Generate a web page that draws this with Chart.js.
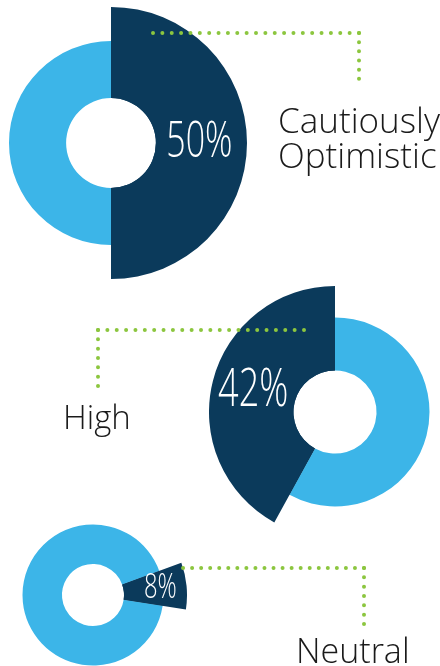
<!DOCTYPE html>
<html>
<head>
<meta charset="utf-8">
<script src="https://cdn.jsdelivr.net/npm/chart.js@4.4.1/dist/chart.umd.min.js"></script>
<style>
  html, body { margin: 0; padding: 0; background: #fff; }
  #stage { position: relative; width: 440px; height: 666px; overflow: hidden; }
  #stage canvas { position: absolute; }
  #leaders { position: absolute; left: 0; top: 0; z-index: 2; }
  .label {
    position: absolute; z-index: 3;
    font-family: "Open Sans", sans-serif; font-weight: 300;
    color: #1a1a1a; white-space: nowrap;
  }
</style>
</head>
<body>
<div id="stage">
  <svg id="leaders" width="440" height="666"></svg>
  <div class="label" id="l0" style="left:278px; top:102px; font-size:35px; line-height:35px;"></div>
  <div class="label" id="l1" style="left:63px; top:399px; font-size:33px; line-height:35px;"></div>
  <div class="label" id="l2" style="left:296px; top:633px; font-size:34px; line-height:35px;"></div>
</div>
<script>
// values
const categories = ["Cautiously Optimistic", "High", "Neutral"];
const labelLines = [["Cautiously", "Optimistic"], ["High"], ["Neutral"]];
const shares = [50, 42, 8];

const DARK = "#0b3a5b";
const LIGHT = "#3cb5e8";
const GREEN = "#8cc63f";

// where each donut sits (centre x, centre y, outer radius of the dark slice)
const layout = [
  { cx: 111, cy: 143, r: 136, rotation: 0, fontSize: 50, labelR: 0.65 },
  { cx: 335, cy: 412, r: 126, rotation: -shares[1] * 3.6, fontSize: 53, labelR: 0.67 },
  { cx: 93, cy: 595, r: 94, rotation: 70, fontSize: 35, labelR: 0.72 },
];

// leader lines: corner point, end of the horizontal run, end of the vertical run
const leaders = [
  { corner: [359, 33], hx: 153, vy: 88 },
  { corner: [98, 330], hx: 304, vy: 386 },
  { corner: [364, 568], hx: 174, vy: 624 },
];

const valueLabel = {
  id: "valueLabel",
  afterDatasetsDraw(chart, args, opts) {
    if (!opts.text) return;
    const arc = chart.getDatasetMeta(0).data[0];
    const mid = (arc.startAngle + arc.endAngle) / 2;
    const r = arc.outerRadius * opts.labelR;
    const x = arc.x + Math.cos(mid) * r;
    const y = arc.y + Math.sin(mid) * r;
    const ctx = chart.ctx;
    ctx.save();
    ctx.translate(x, y);
    ctx.scale(0.68, 1);
    ctx.fillStyle = "#ffffff";
    ctx.font = "300 " + opts.fontSize + "px 'Open Sans'";
    ctx.textAlign = "center";
    ctx.textBaseline = "middle";
    ctx.fillText(opts.text, 0, 0);
    ctx.restore();
  },
};

const stage = document.getElementById("stage");

function makeCanvas(L, z) {
  const canvas = document.createElement("canvas");
  canvas.width = L.r * 2;
  canvas.height = L.r * 2;
  canvas.style.width = L.r * 2 + "px";
  canvas.style.height = L.r * 2 + "px";
  canvas.style.left = L.cx - L.r + "px";
  canvas.style.top = L.cy - L.r + "px";
  canvas.style.zIndex = z;
  stage.appendChild(canvas);
  return canvas.getContext("2d");
}

function donut(ctx, L, data, colors, radius, cutout, label) {
  return new Chart(ctx, {
    type: "doughnut",
    data: {
      labels: data.labels,
      datasets: [{
        data: data.values,
        backgroundColor: colors,
        borderWidth: 0,
      }],
    },
    options: {
      responsive: false,
      animation: false,
      events: [],
      radius: radius,
      cutout: cutout,
      rotation: L.rotation,
      layout: { padding: 0 },
      plugins: {
        legend: { display: false },
        tooltip: { enabled: false },
        valueLabel: label,
      },
    },
    plugins: [valueLabel],
  });
}

shares.forEach((value, i) => {
  const L = layout[i];
  const data = { labels: [categories[i], "Other"], values: [value, 100 - value] };
  // base ring: both parts, at the smaller radius
  donut(makeCanvas(L, 0), L, data, [DARK, LIGHT], "75%", "44%", {});
  // the highlighted slice sticks out to the full radius
  donut(makeCanvas(L, 1), L, data, [DARK, "rgba(0,0,0,0)"], "100%", "33%",
    { text: value + "%", fontSize: L.fontSize, labelR: L.labelR });

  document.getElementById("l" + i).innerHTML = labelLines[i].join("<br>");
});

const svg = document.getElementById("leaders");
const NS = "http://www.w3.org/2000/svg";
function dotted(d, len) {
  const n = Math.max(1, Math.round(len / 9.2));
  const p = document.createElementNS(NS, "path");
  p.setAttribute("d", d);
  p.setAttribute("fill", "none");
  p.setAttribute("stroke", GREEN);
  p.setAttribute("stroke-width", "4");
  p.setAttribute("stroke-linecap", "round");
  p.setAttribute("stroke-dasharray", "0 " + (len / n));
  svg.appendChild(p);
}
leaders.forEach((ld) => {
  const [x, y] = ld.corner;
  dotted("M" + x + " " + y + " H" + ld.hx, Math.abs(x - ld.hx));
  dotted("M" + x + " " + y + " V" + ld.vy, Math.abs(y - ld.vy));
});
</script>
</body>
</html>
